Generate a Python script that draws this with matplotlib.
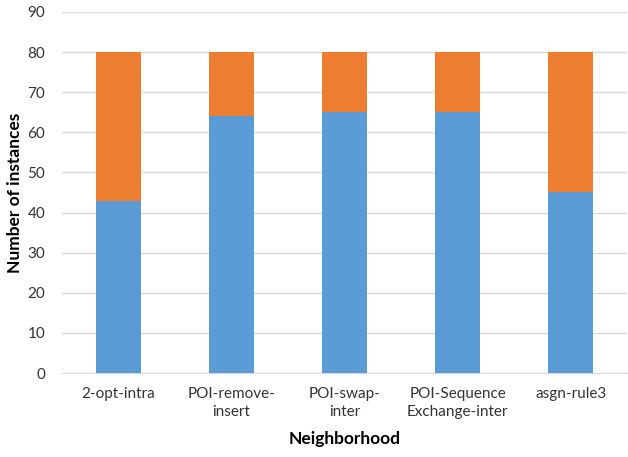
import numpy as np
import matplotlib.pyplot as plt

plt.rcParams['font.family'] = ['Lato', 'DejaVu Sans']

categories = ['2-opt-intra', 'POI-remove-\ninsert', 'POI-swap-\ninter',
              'POI-Sequence\nExchange-inter', 'asgn-rule3']
blue_vals = [43, 64, 65, 65, 45]
orange_vals = [37, 16, 15, 15, 35]

fig = plt.figure(figsize=(6.28, 4.57), dpi=100)
ax = fig.add_axes([0.0987, 0.1838, 0.9, 0.79])

x = np.arange(len(categories))
ax.bar(x, blue_vals, width=0.4, color='#5B9BD5', zorder=3)
ax.bar(x, orange_vals, width=0.4, bottom=blue_vals, color='#ED7D31', zorder=3)

ax.set_ylim(0, 90)
ax.set_xlim(-0.5, len(categories) - 0.5)
ax.set_yticks(range(0, 91, 10))
ax.set_xticks(x)
ax.set_xticklabels(categories, fontsize=11, color='#333333',
                   multialignment='center', linespacing=1.35)
ax.tick_params(axis='y', labelsize=11, labelcolor='#333333', length=0, pad=12)
ax.tick_params(axis='x', length=0, pad=10)
ax.grid(axis='y', color='#D9D9D9', linewidth=1, zorder=0)
for s in ['top', 'right', 'left']:
    ax.spines[s].set_visible(False)
ax.spines['bottom'].set_color('#D9D9D9')

ax.set_xlabel('Neighborhood', fontsize=12.5, fontweight='bold', labelpad=9)
ax.set_ylabel('Number of instances', fontsize=12.5, fontweight='bold', labelpad=3)

fig.savefig('out.png', dpi=100)
